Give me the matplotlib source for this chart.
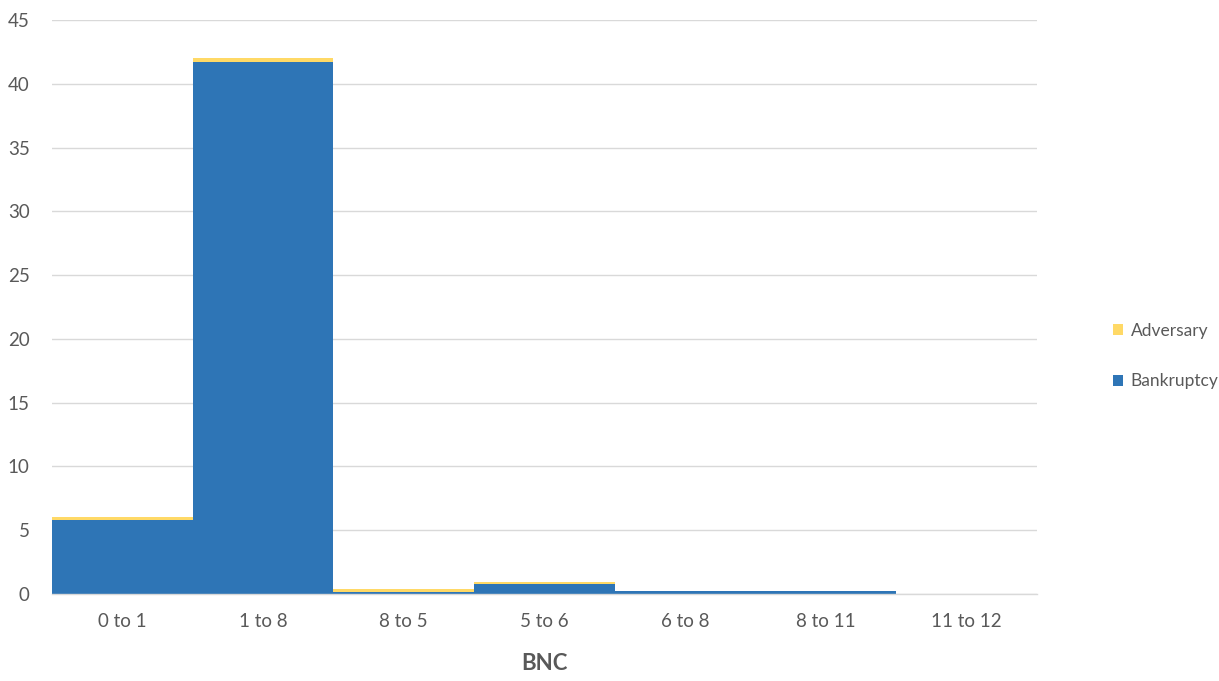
import matplotlib
matplotlib.use("Agg")
import matplotlib.pyplot as plt
import numpy as np

categories = ["0 to 1", "1 to 8", "8 to 5", "5 to 6", "6 to 8", "8 to 11", "11 to 12"]
bankruptcy = [5.8, 41.7, 0.15, 0.78, 0.2, 0.2, 0.0]
adversary = [0.2, 0.35, 0.25, 0.18, 0.0, 0.0, 0.0]

blue = "#2E75B6"
yellow = "#FFD966"
text_color = "#595959"
grid_color = "#D9D9D9"

plt.rcParams['font.family'] = ['Lato', 'DejaVu Sans']

fig = plt.figure(figsize=(12.19, 6.81), dpi=100)
ax = fig.add_axes([52/1219, 1 - 594/681, (1037-52)/1219, (594-20)/681])

x = np.arange(len(categories))
b1 = ax.bar(x, bankruptcy, width=1.0, color=blue, label="Bankruptcy", zorder=3)
b2 = ax.bar(x, adversary, width=1.0, bottom=bankruptcy, color=yellow, label="Adversary", zorder=3)

ax.set_xlim(-0.5, len(categories) - 0.5)
ax.set_ylim(0, 45)
ax.set_yticks(np.arange(0, 46, 5))
ax.set_xticks(x)
ax.set_xticklabels(categories)
ax.yaxis.grid(True, color=grid_color, linewidth=1, zorder=0)
ax.set_axisbelow(True)
for s in ["top", "right", "left"]:
    ax.spines[s].set_visible(False)
ax.spines["bottom"].set_color(grid_color)
ax.spines["bottom"].set_linewidth(1)
ax.spines["bottom"].set_zorder(4)
ax.tick_params(axis="both", length=0, labelsize=13.5, colors=text_color)
ax.tick_params(axis="x", pad=14)
ax.tick_params(axis="y", pad=16)
ax.set_xlabel("BNC", fontsize=16, fontweight="bold", color=text_color, labelpad=16)

leg = fig.legend(handles=[b2, b1], labels=["Adversary", "Bankruptcy"],
                 loc="center left", bbox_to_anchor=(1097/1219, 1 - 356/681),
                 frameon=False, fontsize=12.5, handlelength=0.6, handleheight=0.6,
                 handletextpad=0.45, labelspacing=2.0, labelcolor=text_color)

fig.savefig("out.png", dpi=100)
